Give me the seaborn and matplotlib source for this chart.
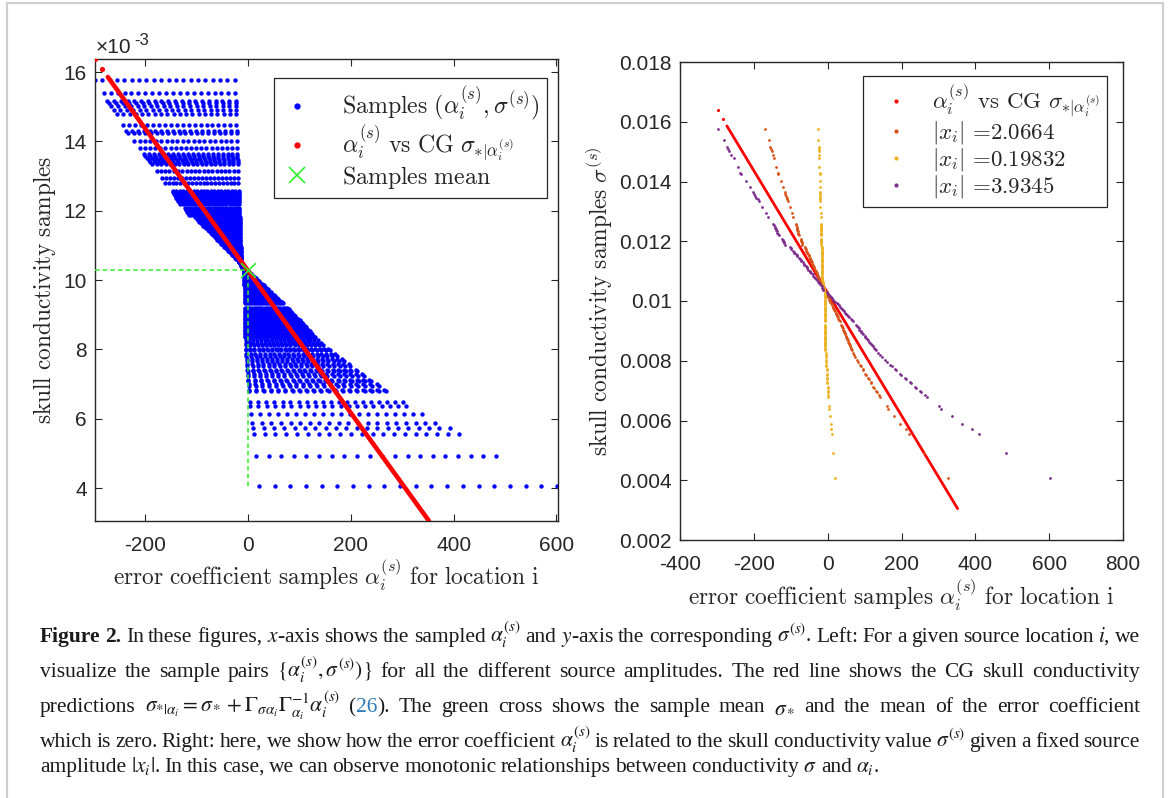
import numpy as np
import pandas as pd
import matplotlib
matplotlib.use("Agg")
import matplotlib.pyplot as plt
import seaborn as sns
from matplotlib.lines import Line2D
from matplotlib.patches import Rectangle
from matplotlib.ticker import FixedLocator, FuncFormatter

# ---------------- data (conductivity in units of 1e-3) ----------------
# Conductivity sample levels above the mean, with the error coefficient at the
# smallest and at the largest source amplitude for each level
SIGMA_UPPER = [15.77, 15.40, 15.17, 15.10, 15.03, 14.90, 14.78, 14.47, 14.30, 14.24,
               14.01, 13.80, 13.64, 13.58, 13.52, 13.46, 13.40, 13.34, 13.15, 12.94, 12.80,
               12.57, 12.53, 12.49, 12.45, 12.41, 12.37, 12.33, 12.29, 12.25, 12.21,
               12.09, 12.05, 12.01, 11.97, 11.93, 11.89,
               11.81, 11.77, 11.73, 11.69, 11.65, 11.61, 11.57, 11.53, 11.49, 11.45,
               11.41, 11.37, 11.33, 11.29, 11.25, 11.21, 11.17, 11.13, 11.09, 11.05,
               11.01, 10.97, 10.93, 10.89, 10.85, 10.81, 10.77, 10.73, 10.69, 10.65,
               10.61, 10.57, 10.53, 10.49, 10.45, 10.41, 10.37]
ALPHA_MAX_AMP_UPPER = [-298, -281, -274, -270, -266, -261, -255, -243, -237, -234,
                       -222, -211, -203, -200, -197, -193, -190, -187, -178, -168, -162,
                       -147, -146, -144, -143, -141, -140, -138, -137, -135, -133,
                       -123, -121, -120, -119, -117, -116,
                       -103, -100, -98, -95, -92, -90, -87, -84, -82, -79,
                       -76, -73, -71, -68, -65, -63, -60, -57, -55, -52,
                       -49, -47, -44, -41, -39, -36, -33, -31, -28, -25,
                       -23, -20, -18, -16, -14, -13, -12]
ALPHA_MIN_AMP_UPPER = [-26, -25, -24, -24, -24, -23, -23, -23, -22, -22,
                       -22, -21, -21, -21, -21, -20, -20, -20, -20, -19, -19,
                       -18, -18, -18, -18, -18, -18, -18, -18, -18, -18,
                       -17, -17, -17, -17, -17, -17,
                       -16, -16, -16, -16, -16, -16, -16, -16, -16, -16,
                       -16, -15, -15, -15, -15, -15, -15, -15, -15, -15,
                       -15, -14, -14, -14, -14, -14, -14, -14, -14, -13,
                       -13, -13, -13, -12, -11, -11, -10]
# Levels below the mean
SIGMA_LOWER = [10.29, 10.25, 10.21, 10.17, 10.13, 10.09, 10.05, 10.01, 9.97, 9.93,
               9.89, 9.85, 9.81, 9.77, 9.73, 9.69, 9.65, 9.61, 9.57, 9.53,
               9.49, 9.45, 9.41, 9.37, 9.33,
               9.20, 9.16, 9.12, 9.08, 9.04, 9.00, 8.96, 8.92,
               8.88, 8.84, 8.80, 8.76, 8.72, 8.68, 8.64, 8.60, 8.56, 8.52, 8.48, 8.44, 8.40, 8.36,
               8.26, 8.20, 8.14, 8.02, 7.97,
               7.86, 7.82, 7.72, 7.68, 7.57, 7.53, 7.42, 7.38, 7.28, 7.24, 7.13, 7.09,
               6.99, 6.95, 6.84, 6.80,
               6.48, 6.38, 6.15, 5.88, 5.72, 5.55, 4.92, 4.07]
ALPHA_MAX_AMP_LOWER = [-3, 0, 3, 6, 9, 12, 15, 18, 21, 24,
                       27, 30, 33, 35, 38, 41, 44, 47, 50, 53,
                       56, 59, 62, 65, 68,
                       76, 79, 81, 84, 86, 89, 91, 94,
                       97, 100, 102, 105, 107, 110, 112, 115, 117, 120, 122, 125, 127, 130,
                       136, 141, 146, 156, 160,
                       170, 173, 183, 186, 196, 199, 209, 212, 222, 226, 236, 240,
                       250, 254, 265, 269,
                       302, 308, 338, 363, 392, 410, 482, 601]
ALPHA_MIN_AMP_LOWER = [-8, -8, -8, -8, -8, -8, -8, -8, -8, -8,
                       -8, -8, -7, -7, -7, -7, -7, -7, -7, -7,
                       -7, -7, -7, -7, -7,
                       -7, -7, -7, -7, -7, -7, -7, -7,
                       -6, -6, -6, -6, -6, -6, -6, -6, -6, -6, -6, -6, -6, -6,
                       -5, -5, -5, -5, -5,
                       -4, -4, -3, -3, -2, -2, -2, -1, -1, -1, 0, 0,
                       1, 1, 2, 2,
                       4, 4, 6, 8, 10, 11, 15, 21]
# Relative position of each of the 20 source amplitudes between the smallest and largest
AMPLITUDE_POSITION = [0.000, 0.053, 0.105, 0.158, 0.211, 0.263, 0.316, 0.368, 0.421, 0.474,
                      0.526, 0.579, 0.632, 0.684, 0.737, 0.789, 0.842, 0.895, 0.947, 1.000]
# Fixed-amplitude series shown on the right (index into the amplitudes)
FIXED_AMP_LABELS = ["2.0664", "0.19832", "3.9345"]
FIXED_AMP_INDEX = [10, 0, 19]
# CG conditional-mean prediction (red)
CG_LINE_ALPHA = [-273, 352]
CG_LINE_SIGMA = [15.86, 3.05]
CG_DOT_ALPHA = [-298, -284]
CG_DOT_SIGMA = [16.38, 16.08]
# sample mean
MEAN_ALPHA = 0.0
MEAN_SIGMA = 10.30

# ---------------- build tables ----------------
sig = np.array(SIGMA_UPPER + SIGMA_LOWER)
a_lo = np.array(ALPHA_MIN_AMP_UPPER + ALPHA_MIN_AMP_LOWER, dtype=float)
a_hi = np.array(ALPHA_MAX_AMP_UPPER + ALPHA_MAX_AMP_LOWER, dtype=float)
pos = np.array(AMPLITUDE_POSITION)
alpha_grid = a_lo[:, None] + (a_hi - a_lo)[:, None] * pos[None, :]
samples = pd.DataFrame({"alpha": alpha_grid.ravel(),
                        "sigma": np.repeat(sig, len(pos))})

# ---------------- style ----------------
sns.set_theme(style="white", rc={
    "xtick.direction": "in", "ytick.direction": "in",
    "xtick.top": True, "ytick.right": True,
    "xtick.bottom": True, "ytick.left": True,
    "axes.edgecolor": "#262626", "axes.linewidth": 1.0,
    "xtick.major.size": 5, "ytick.major.size": 5,
    "xtick.major.width": 0.8, "ytick.major.width": 0.8,
    "xtick.color": "#262626", "ytick.color": "#262626",
    "xtick.labelsize": 15, "ytick.labelsize": 15,
    "axes.unicode_minus": False, "mathtext.fontset": "cm",
})
plt.rcParams["font.family"] = ["Liberation Sans", "DejaVu Sans"]

W, H = 1170, 798
fig = plt.figure(figsize=(W / 100, H / 100), dpi=100)


def rect(x0, y0, x1, y1):
    return [x0 / W, 1 - y1 / H, (x1 - x0) / W, (y1 - y0) / H]


axL = fig.add_axes(rect(95, 59, 558, 521))
axR = fig.add_axes(rect(680, 62, 1123, 540))

BLUE, RED, GREEN = "#0000ff", "#ff0000", "#2ef02e"
SERIES_COLORS = ["#D95319", "#EDB120", "#7E2F8E"]
LAB = 16.8

# ---------------- left panel ----------------
sns.scatterplot(data=samples, x="alpha", y="sigma", ax=axL, color=BLUE, s=10,
                linewidth=0, legend=False, zorder=2)
sns.lineplot(x=CG_LINE_ALPHA, y=CG_LINE_SIGMA, ax=axL, color=RED, lw=3.3,
             estimator=None, sort=False, legend=False, zorder=3)
sns.scatterplot(x=CG_DOT_ALPHA, y=CG_DOT_SIGMA, ax=axL, color=RED, s=14,
                linewidth=0, legend=False, zorder=3)
xmin = min(samples["alpha"].min(), min(CG_DOT_ALPHA))
xmax = samples["alpha"].max()
axL.plot([xmin, MEAN_ALPHA], [MEAN_SIGMA, MEAN_SIGMA], ls=(0, (3, 2)), color=GREEN, lw=1.1, zorder=4)
axL.plot([MEAN_ALPHA, MEAN_ALPHA], [samples["sigma"].min(), MEAN_SIGMA], ls=(0, (3, 2)),
         color=GREEN, lw=1.1, zorder=4)
sns.scatterplot(x=[MEAN_ALPHA], y=[MEAN_SIGMA], ax=axL, marker="x", color=GREEN, s=110,
                linewidth=1.2, legend=False, zorder=5)
axL.set_xlim(xmin, xmax + 2)
axL.set_ylim(min(CG_LINE_SIGMA), max(CG_DOT_SIGMA))
axL.xaxis.set_major_locator(FixedLocator([-200, 0, 200, 400, 600]))
axL.yaxis.set_major_locator(FixedLocator([4, 6, 8, 10, 12, 14, 16]))
axL.set_xlabel(r"$\mathrm{error\ coefficient\ samples}\ \alpha_i^{(s)}\ \mathrm{for\ location\ i}$",
               fontsize=LAB)
axL.set_ylabel(r"$\mathrm{skull\ conductivity\ samples}$", fontsize=LAB)
axL.xaxis.set_label_coords(0.5, -(575 - 521) / 462)
axL.xaxis.label.set_va("center")
axL.yaxis.set_label_coords((45 - 95) / 463, 0.5)
axL.yaxis.label.set_va("center")
fig.text(96 / W, 1 - 53 / H, "×10", fontsize=15, color="#262626", va="baseline")
fig.text(134 / W, 1 - 45 / H, "-3", fontsize=12, color="#262626", va="baseline")

hL = [Line2D([], [], ls="none", marker=".", color=BLUE, markersize=7),
      Line2D([], [], ls="none", marker=".", color=RED, markersize=7),
      Line2D([], [], ls="none", marker="x", color=GREEN, markersize=11, mew=1.2)]
labL = [r"$\mathrm{Samples}\ (\alpha_i^{(s)},\sigma^{(s)})$",
        r"$\alpha_i^{(s)}\ \mathrm{vs\ CG}\ \sigma_{*|\alpha_i^{(s)}}$",
        r"$\mathrm{Samples\ mean}$"]
legL = axL.legend(hL, labL, loc="upper right", bbox_to_anchor=((547 - 95) / 463, 1 - (78 - 59) / 462),
                  borderaxespad=0, fontsize=17.2, frameon=True, fancybox=False, framealpha=1,
                  edgecolor="#262626", handlelength=1.3, handletextpad=1.25, labelspacing=0.0,
                  borderpad=0.3)
legL.get_frame().set_linewidth(0.9)

# ---------------- right panel ----------------
sig_abs = sig * 1e-3
sns.lineplot(x=CG_LINE_ALPHA, y=np.array(CG_LINE_SIGMA) * 1e-3, ax=axR, color=RED, lw=2.0,
             estimator=None, sort=False, legend=False, zorder=2)
sns.scatterplot(x=CG_DOT_ALPHA, y=np.array(CG_DOT_SIGMA) * 1e-3, ax=axR, color=RED, s=5,
                linewidth=0, legend=False, zorder=2)
for idx, col in zip(FIXED_AMP_INDEX, SERIES_COLORS):
    sns.scatterplot(x=alpha_grid[:, idx], y=sig_abs, ax=axR, color=col, s=4, linewidth=0,
                    legend=False, zorder=3)
axR.set_xlim(-400, 800)
axR.set_ylim(0.002, 0.018)
axR.xaxis.set_major_locator(FixedLocator([-400, -200, 0, 200, 400, 600, 800]))
axR.yaxis.set_major_locator(FixedLocator([0.002, 0.004, 0.006, 0.008, 0.010, 0.012, 0.014, 0.016, 0.018]))
axR.yaxis.set_major_formatter(FuncFormatter(lambda v, p: f"{v:g}"))
axR.set_xlabel(r"$\mathrm{error\ coefficient\ samples}\ \alpha_i^{(s)}\ \mathrm{for\ location\ i}$",
               fontsize=LAB)
axR.set_ylabel(r"$\mathrm{skull\ conductivity\ samples}\ \sigma^{(s)}$", fontsize=LAB)
axR.xaxis.set_label_coords(0.5, -(595 - 540) / 478)
axR.xaxis.label.set_va("center")
axR.yaxis.set_label_coords((599 - 680) / 443, 0.5)
axR.yaxis.label.set_va("center")

hR = [Line2D([], [], ls="none", marker=".", color=RED, markersize=4)] + \
     [Line2D([], [], ls="none", marker=".", color=c, markersize=4) for c in SERIES_COLORS]
labR = [r"$\alpha_i^{(s)}$ vs CG $\sigma_{*|\alpha_i^{(s)}}$"] + \
       [r"$|x_i|$ =" + v for v in FIXED_AMP_LABELS]
legR = axR.legend(hR, labR, loc="upper right", bbox_to_anchor=((1107 - 680) / 443, 1 - (76 - 62) / 478),
                  borderaxespad=0, prop={"family": "cmr10", "size": 16.5}, frameon=True,
                  fancybox=False, framealpha=1, edgecolor="#262626", handlelength=2.3,
                  handletextpad=0.4, labelspacing=0.0, borderpad=0.3)
legR.get_frame().set_linewidth(0.9)

for ax in (axL, axR):
    for sp in ax.spines.values():
        sp.set_color("#262626")
    ax.tick_params(which="both", direction="in", top=True, right=True, length=5)
    ax.tick_params(axis="x", pad=11)
    ax.tick_params(axis="y", pad=6)

# ---------------- caption ----------------
CAP_SIZE = 15.5
X0, X1 = 40, 1140
fig.canvas.draw()
renderer = fig.canvas.get_renderer()


def words(s, style=None):
    return [[(w, style)] for w in s.split(" ")]


CAPTION = [
    ([[("Figure", "bold")], [("2.", "bold")]] +
     words(r"In these figures, $x$-axis shows the sampled $\alpha_i^{(s)}$ and $y$-axis the "
           r"corresponding $\sigma^{(s)}$. Left: For a given source location $i$, we"), 642, True),
    (words(r"visualize the sample pairs $\{\alpha_i^{(s)},\sigma^{(s)})\}$ for all the different "
           r"source amplitudes. The red line shows the CG skull conductivity"), 677, True),
    (words(r"predictions $\sigma_{*|\alpha_i}=\sigma_*+\Gamma_{\sigma\alpha_i}\Gamma_{\alpha_i}^{-1}\alpha_i^{(s)}$")
     + [[("(", None), ("26", "blue"), (").", None)]]
     + words(r"The green cross shows the sample mean $\sigma_*$ and the mean of the error coefficient"),
     712, True),
    (words(r"which is zero. Right: here, we show how the error coefficient $\alpha_i^{(s)}$ is related "
           r"to the skull conductivity value $\sigma^{(s)}$ given a fixed source"), 747, True),
    (words(r"amplitude $|x_i|$. In this case, we can observe monotonic relationships between "
           r"conductivity $\sigma$ and $\alpha_i$."), 772, False),
]

for line, ybase, justify in CAPTION:
    objs = []
    for w in line:
        pieces = []
        for txt, style in w:
            kw = dict(fontsize=CAP_SIZE, family="Liberation Serif", math_fontfamily="stix",
                      va="baseline", ha="left", color="#1a1a1a")
            if style == "bold":
                kw["fontweight"] = "bold"
            if style == "blue":
                kw["color"] = "#2b7bba"
            pieces.append(fig.text(0, 1 - ybase / H, txt, **kw))
        objs.append(pieces)
    widths = [[p.get_window_extent(renderer).width for p in ps] for ps in objs]
    totals = [sum(ws) for ws in widths]
    gap = (X1 - X0 - sum(totals)) / (len(totals) - 1) if justify else 4.4
    x = X0
    for ps, ws in zip(objs, widths):
        for p, wd in zip(ps, ws):
            p.set_x(x / W)
            x += wd
        x += gap

# frame around the figure panel
fig.add_artist(Rectangle((7 / W, -0.05), (1163 - 7) / W, 1.05 - 3 / H, transform=fig.transFigure,
                         fill=False, edgecolor="#cfcfcf", lw=1.6))

fig.savefig("out.png", dpi=100)
